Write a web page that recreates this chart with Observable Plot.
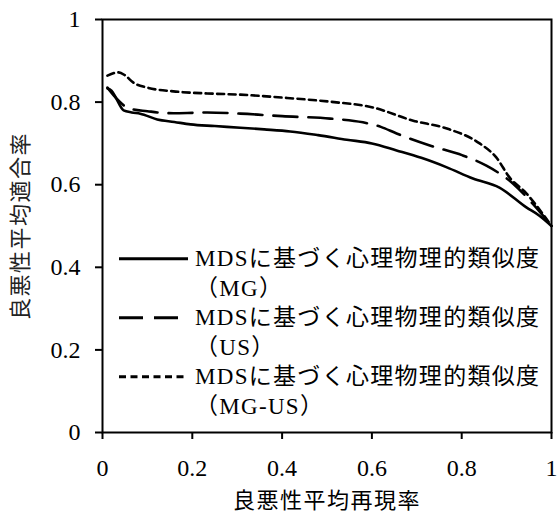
<!DOCTYPE html>
<html>
<head>
<meta charset="utf-8">
<script src="https://cdn.jsdelivr.net/npm/d3@7"></script>
<script src="https://cdn.jsdelivr.net/npm/@observablehq/plot@0.6"></script>
<style>
  html, body { margin: 0; padding: 0; background: #fff; }
  #wrap { position: relative; width: 557px; height: 516px; }
  #legend { position: absolute; left: 119px; top: 244px; font-family: "Liberation Serif", "Noto Sans CJK JP", serif; font-size: 23px; letter-spacing: 1.3px; color: #000; }
  .item { display: flex; align-items: flex-start; height: 59px; }
  .item svg { flex: none; margin-right: 7px; }
  .txt div { height: 29.5px; line-height: 29.5px; white-space: pre; }
  #wrap g[aria-label="x-axis tick label"], #wrap g[aria-label="y-axis tick label"],
  #wrap g[aria-label="x-axis tick label"] text, #wrap g[aria-label="y-axis tick label"] text {
    font-family: "Liberation Serif", serif !important; font-size: 24px !important; font-variant: normal !important;
  }
  #wrap g[aria-label="x-axis label"] text, #wrap g[aria-label="y-axis label"] text {
    font-family: "Noto Sans CJK JP", sans-serif !important; font-size: 22px !important; letter-spacing: 1.5px;
  }
</style>
</head>
<body>
<div id="wrap"></div>
<script>
const xTicks = [0, 0.2, 0.4, 0.6, 0.8, 1];
const yTicks = [0, 0.2, 0.4, 0.6, 0.8, 1];
const xLabel = "良悪性平均再現率";
const yLabel = "良悪性平均適合率";
const seriesNames = ["MDSに基づく心理物理的類似度\n（MG）", "MDSに基づく心理物理的類似度\n（US）", "MDSに基づく心理物理的類似度\n（MG-US）"];

const mgX = [0.011, 0.02, 0.03, 0.047, 0.065, 0.084, 0.122, 0.16, 0.196, 0.25, 0.307, 0.36, 0.418, 0.48, 0.544, 0.6, 0.655, 0.71, 0.767, 0.825, 0.884, 0.944, 0.973, 1.0];
const mgY = [0.833, 0.828, 0.81, 0.78, 0.775, 0.772, 0.758, 0.752, 0.746, 0.742, 0.738, 0.734, 0.729, 0.72, 0.709, 0.70, 0.683, 0.665, 0.642, 0.615, 0.593, 0.545, 0.525, 0.50];

const usX = [0.011, 0.03, 0.05, 0.069, 0.1, 0.122, 0.158, 0.2, 0.233, 0.307, 0.4, 0.507, 0.58, 0.62, 0.655, 0.729, 0.802, 0.855, 0.914, 0.958, 1.0];
const usY = [0.835, 0.81, 0.79, 0.782, 0.778, 0.775, 0.773, 0.774, 0.775, 0.772, 0.766, 0.760, 0.751, 0.740, 0.724, 0.695, 0.671, 0.646, 0.603, 0.554, 0.50];

const mgusX = [0.011, 0.036, 0.05, 0.069, 0.1, 0.158, 0.233, 0.307, 0.411, 0.507, 0.602, 0.692, 0.767, 0.84, 0.877, 0.907, 0.944, 0.98, 1.0];
const mgusY = [0.864, 0.872, 0.865, 0.847, 0.835, 0.826, 0.821, 0.818, 0.81, 0.801, 0.787, 0.755, 0.736, 0.700, 0.666, 0.617, 0.579, 0.530, 0.50];

const dashes = [null, "24,11", "7,4.5"];
const series = [[mgX, mgY], [usX, usY], [mgusX, mgusY]];

const serif = "'Liberation Serif', 'Noto Sans CJK JP', serif";

const lineMarks = series.map(([xs, ys], i) =>
  Plot.line(xs.map((x, j) => ({x, y: ys[j]})), {
    x: "x", y: "y", stroke: "#000", strokeWidth: 2.6,
    strokeDasharray: dashes[i] || undefined, curve: "monotone-x"
  })
);

const chart = Plot.plot({
  width: 557,
  height: 516,
  marginLeft: 102,
  marginRight: 6,
  marginTop: 19,
  marginBottom: 84,
  style: { fontFamily: serif, fontSize: "24px", color: "#000", background: "#fff" },
  x: { domain: [0, 1] },
  y: { domain: [0, 1] },
  marks: [
    Plot.frame({ stroke: "#000", strokeWidth: 2 }),
    Plot.axisX({ ticks: xTicks, tickSize: 7, tickPadding: 19, strokeWidth: 2, tickFormat: d => String(d), label: null, fontFamily: serif, fontSize: 24 }),
    Plot.axisX({ ticks: [], label: xLabel, labelAnchor: "center", labelOffset: 75, labelArrow: "none", fontSize: 22, fontFamily: "'Noto Sans CJK JP'" }),
    Plot.axisY({ ticks: yTicks, tickSize: 7, tickPadding: 15, strokeWidth: 2, tickFormat: d => String(d), label: null, fontFamily: serif, fontSize: 24 }),
    Plot.axisY({ ticks: [], label: yLabel, labelAnchor: "center", labelOffset: 90, labelArrow: "none", fontSize: 22, fontFamily: "'Noto Sans CJK JP'", fill: "#222" }),
    ...lineMarks
  ]
});

const wrap = document.getElementById("wrap");
wrap.appendChild(chart);

const legend = document.createElement("div");
legend.id = "legend";
seriesNames.forEach((name, i) => {
  const item = document.createElement("div");
  item.className = "item";
  const svg = document.createElementNS("http://www.w3.org/2000/svg", "svg");
  svg.setAttribute("width", 69);
  svg.setAttribute("height", 29.5);
  const ln = document.createElementNS("http://www.w3.org/2000/svg", "line");
  ln.setAttribute("x1", 0); ln.setAttribute("x2", 69);
  ln.setAttribute("y1", 14.75); ln.setAttribute("y2", 14.75);
  ln.setAttribute("stroke", "#000");
  ln.setAttribute("stroke-width", 3);
  if (dashes[i]) ln.setAttribute("stroke-dasharray", dashes[i]);
  svg.appendChild(ln);
  const txt = document.createElement("div");
  txt.className = "txt";
  name.split("\n").forEach(line => {
    const d = document.createElement("div");
    d.textContent = line;
    txt.appendChild(d);
  });
  item.appendChild(svg);
  item.appendChild(txt);
  legend.appendChild(item);
});
wrap.appendChild(legend);
</script>
</body>
</html>
